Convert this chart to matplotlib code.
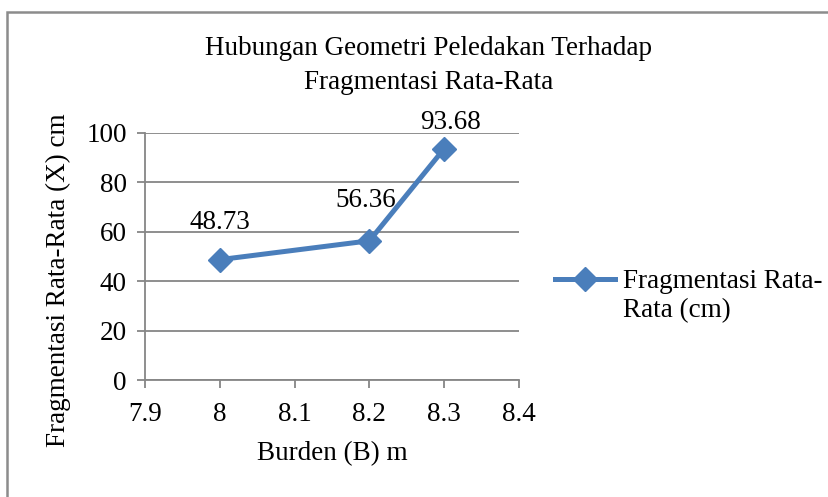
import matplotlib.pyplot as plt
from matplotlib.lines import Line2D
from matplotlib.patches import Rectangle

# Data
burden = [8.0, 8.2, 8.3]
fragmentasi = [48.73, 56.36, 93.68]
x_ticks = [7.9, 8.0, 8.1, 8.2, 8.3, 8.4]
x_tick_labels = ['7.9', '8', '8.1', '8.2', '8.3', '8.4']
y_ticks = [0, 20, 40, 60, 80, 100]

LINE_COLOR = '#4a7ebb'
GRID_COLOR = '#868686'
FS = 19.5

plt.rcParams['font.family'] = ['Liberation Serif', 'DejaVu Serif']

fig = plt.figure(figsize=(8.29, 4.97), dpi=100)
ax = fig.add_axes([0.1749, 0.2354, 0.4512, 0.497])

line, = ax.plot(burden, fragmentasi, color=LINE_COLOR, linewidth=3.6,
                marker='D', markersize=12, clip_on=False, zorder=3)

# data labels (Excel "above" placement)
offsets = [(0, 27), (-3, 29), (4.5, 19)]
for x, y, off in zip(burden, fragmentasi, offsets):
    ax.annotate(f'{y:.2f}', (x, y), xytext=off, textcoords='offset points',
                ha='center', va='center', fontsize=FS)

ax.set_xlim(7.9, 8.4)
ax.set_ylim(0, 100)
ax.set_xticks(x_ticks)
ax.set_xticklabels(x_tick_labels)
ax.set_yticks(y_ticks)
ax.tick_params(axis='both', labelsize=FS, colors=GRID_COLOR, length=6,
               width=1.3, labelcolor='black')
ax.tick_params(axis='x', pad=10)
ax.tick_params(axis='y', pad=7)
ax.grid(axis='y', color=GRID_COLOR, linewidth=1.3)
ax.set_axisbelow(True)
for side in ['top', 'right']:
    ax.spines[side].set_visible(False)
for side in ['left', 'bottom']:
    ax.spines[side].set_color(GRID_COLOR)
    ax.spines[side].set_linewidth(1.3)

ax.set_xlabel('Burden (B) m', fontsize=FS, labelpad=10)
ax.set_ylabel('Fragmentasi Rata-Rata (X) cm', fontsize=FS)
ax.yaxis.set_label_coords(-0.198, 0.405)
ax.set_title('Hubungan Geometri Peledakan Terhadap\nFragmentasi Rata-Rata',
             fontsize=FS, pad=32, linespacing=1.45, x=0.757)

# legend: handle sits on the first line of the wrapped label
blank = Line2D([], [], linestyle='none')
ax.legend([line, blank], ['Fragmentasi Rata-', 'Rata (cm)'],
          loc='center left', bbox_to_anchor=(1.096, 0.338), frameon=False,
          fontsize=FS, handlelength=2.2, handletextpad=0.3,
          labelspacing=0.15, borderpad=0, borderaxespad=0)

# outer chart border, cut off on the right and bottom like the reference
fig.patches.append(Rectangle((7 / 829, -0.1), 1.2, 1 - 12 / 497 + 0.1,
                             transform=fig.transFigure, fill=False,
                             edgecolor='#8c8c8c', linewidth=1.8))

fig.savefig('out.png', dpi=100)
